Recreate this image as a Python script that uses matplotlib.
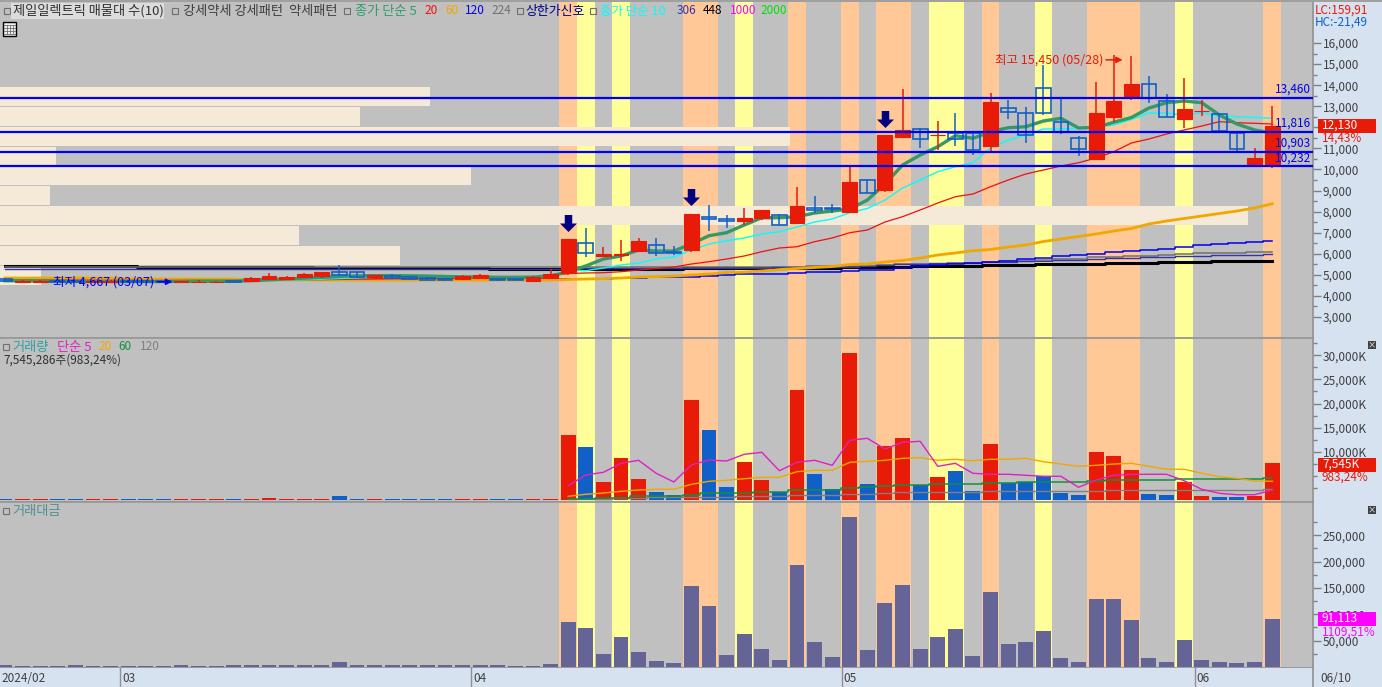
#!/usr/bin/env python3
"""Daily stock chart: candles with moving averages, volume and traded value panes."""

import matplotlib

matplotlib.use("Agg")
import matplotlib.pyplot as plt
import numpy as np
from matplotlib.patches import Rectangle
from matplotlib.path import Path

W, H = 1382, 687
plt.rcParams["font.family"] = ["Noto Sans CJK KR", "DejaVu Sans"]

BG = "#C0C0C0"
SIDE = "#D6E2F0"
RED = "#E81A08"
BLUE = "#1060C8"

opens = [
    4800, 4680, 4680, 4720, 4700, 4660, 4670, 4700, 4690, 4690, 4680, 4650, 4650, 4690, 4700, 4800,
    4780, 4880, 4950, 5130, 5110, 4890, 4940, 4880, 4840, 4820, 4800, 4840, 4820, 4820, 4710, 4850,
    5100, 6490, 5900, 5925, 6140, 6400, 6070, 6175, 7740, 7650, 7570, 7710, 7820, 7470, 8180, 8180,
    8000, 9500, 9020, 11555, 11900, 11625, 11730, 11745, 11110, 12900, 12660, 13850, 12270, 11480,
    10495, 12500, 13485, 14040, 13230, 12410, 12750, 12620, 11715, 10270, 10270,
]
closes = [
    4705, 4720, 4710, 4680, 4670, 4700, 4710, 4670, 4670, 4680, 4690, 4680, 4680, 4660, 4860, 4940,
    4880, 5030, 5130, 4990, 4910, 4990, 4830, 4800, 4760, 4760, 4940, 4990, 4740, 4770, 4900, 5040,
    6700, 6020, 5990, 5970, 6600, 6020, 6050, 7880, 7650, 7550, 7695, 8075, 7350, 8265, 8090, 8130,
    9400, 8900, 11630, 11870, 11460, 11650, 11460, 10940, 13200, 12740, 11650, 12660, 11790, 10985,
    12680, 13250, 14050, 13390, 12500, 12870, 12790, 11840, 10960, 10540, 12070,
]
highs = [
    4830, 4760, 4740, 4750, 4740, 4730, 4750, 4730, 4720, 4720, 4720, 4730, 4720, 4720, 4900, 5080,
    4960, 5080, 5150, 5460, 5130, 5010, 5040, 4930, 4880, 4860, 5000, 5020, 4850, 4850, 4960, 5260,
    6700, 7220, 6300, 6650, 6730, 6730, 6365, 7880, 8310, 7840, 8180, 8075, 7885, 9180, 8740, 8360,
    10130, 9540, 11630, 13800, 11960, 12300, 12660, 11745, 13610, 13295, 12950, 14950, 13375, 11600,
    14150, 15450, 15380, 14430, 13580, 14320, 13295, 12620, 11715, 11000, 13010,
]
lows = [
    4680, 4660, 4660, 4650, 4650, 4640, 4650, 4650, 4650, 4667, 4670, 4630, 4620, 4640, 4650, 4780,
    4750, 4830, 4870, 4940, 4900, 4820, 4800, 4780, 4750, 4720, 4780, 4800, 4720, 4750, 4680, 4840,
    5000, 5860, 5840, 5670, 6090, 5910, 5940, 6095, 7090, 7240, 7360, 7600, 7350, 7410, 7950, 7950,
    7930, 8900, 8940, 11480, 11030, 10920, 11110, 10680, 10840, 12390, 11270, 12600, 11680, 10650,
    10450, 12270, 13290, 13170, 12500, 11950, 12550, 11840, 10840, 10270, 10050,
]

ma5 = [
    4720, 4720, 4710, 4700, 4690, 4690, 4680, 4680, 4680, 4680, 4690, 4700, 4700, 4700, 4720, 4760,
    4800, 4840, 4880, 4920, 4950, 4960, 4960, 4950, 4940, 4920, 4900, 4890, 4880, 4880, 4890, 4950,
    5132, 5417, 5749, 5891, 6176, 6128, 6128, 6461, 6855, 6997, 7362, 7709, 7709, 7757, 7932, 8027,
    8122, 8549, 9308, 10210, 10685, 11079, 11601, 11477, 11791, 11980, 12028, 12298, 12426, 11966,
    11999, 12237, 12464, 12915, 13167, 13248, 13167, 12583, 12156, 11871, 11729,
]
ma10 = [
    4730, 4730, 4720, 4720, 4710, 4700, 4700, 4690, 4690, 4680, 4680, 4680, 4690, 4690, 4700, 4720,
    4740, 4760, 4790, 4820, 4850, 4880, 4890, 4910, 4920, 4920, 4920, 4910, 4900, 4890, 4890, 4900,
    5227, 5194, 5322, 5464, 5559, 5749, 5844, 6176, 6461, 6617, 6746, 6935, 7044, 7268, 7505, 7647,
    7946, 8146, 8549, 9119, 9498, 9892, 10129, 10319, 11017, 11397, 11634, 11919, 11919, 11966,
    12014, 12108, 12370, 12678, 12678, 12583, 12692, 12536, 12502, 12474, 12426,
]
ma20 = [
    4760, 4760, 4750, 4750, 4750, 4740, 4740, 4740, 4730, 4730, 4730, 4730, 4730, 4730, 4740, 4740,
    4750, 4760, 4770, 4780, 4790, 4800, 4810, 4810, 4820, 4820, 4830, 4830, 4840, 4850, 4880, 4960,
    5060, 5085, 5099, 5147, 5227, 5298, 5369, 5511, 5621, 5749, 5891, 6095, 6271, 6333, 6570, 6746,
    6997, 7125, 7505, 7757, 8075, 8407, 8705, 8834, 9180, 9498, 9783, 9973, 10163, 10319, 10542,
    10842, 11254, 11444, 11681, 11871, 12061, 12265, 12218, 12189, 12156,
]
ma60 = [
    4847, 4847, 4847, 4847, 4847, 4847, 4847, 4800, 4800, 4800, 4800, 4800, 4800, 4800, 4752, 4752,
    4752, 4752, 4752, 4752, 4752, 4752, 4752, 4752, 4752, 4752, 4752, 4752, 4752, 4752, 4752, 4752,
    4776, 4800, 4814, 4847, 4895, 4909, 4942, 4990, 5037, 5108, 5132, 5179, 5250, 5298, 5346, 5393,
    5488, 5511, 5606, 5678, 5796, 5939, 6034, 6143, 6200, 6319, 6413, 6579, 6698, 6817, 6935, 7078,
    7197, 7410, 7552, 7671, 7790, 7908, 8027, 8169, 8373,
]
ma120 = [
    4700, 4700, 4700, 4700, 4700, 4700, 4700, 4700, 4700, 4700, 4700, 4700, 4700, 4700, 4790, 4790,
    4790, 4790, 4790, 4790, 4790, 4790, 4790, 4790, 4790, 4790, 4790, 4790, 4790, 4790, 4790, 4790,
    4800, 4810, 4820, 4835, 4860, 4880, 4895, 4909, 4950, 4985, 5020, 5040, 5060, 5085, 5115, 5150,
    5179, 5241, 5241, 5307, 5431, 5464, 5512, 5545, 5592, 5654, 5734, 5782, 5877, 5924, 5986, 6067,
    6114, 6176, 6238, 6304, 6413, 6461, 6508, 6541, 6589,
]
ma224 = [
    5370, 5370, 5370, 5370, 5370, 5370, 5370, 5370, 5370, 5370, 5370, 5370, 5370, 5370, 5370, 5370,
    5370, 5370, 5370, 5370, 5370, 5370, 5370, 5370, 5370, 5370, 5370, 5370, 5370, 5370, 5370, 5370,
    5370, 5370, 5370, 5370, 5370, 5384, 5384, 5384, 5384, 5384, 5384, 5384, 5384, 5384, 5400, 5420,
    5440, 5440, 5464, 5497, 5512, 5535, 5559, 5573, 5607, 5631, 5678, 5725, 5763, 5772, 5829, 5844,
    5877, 5915, 5924, 5963, 6020, 6020, 6034, 6067, 6067,
]
ma306 = [
    5260, 5260, 5260, 5260, 5260, 5260, 5260, 5260, 5260, 5260, 5260, 5260, 5260, 5260, 5260, 5260,
    5260, 5260, 5260, 5260, 5260, 5260, 5260, 5260, 5260, 5290, 5290, 5290, 5290, 5290, 5290, 5290,
    5290, 5300, 5300, 5300, 5310, 5310, 5320, 5320, 5330, 5330, 5340, 5340, 5350, 5350, 5360, 5370,
    5388, 5440, 5464, 5512, 5535, 5545, 5545, 5559, 5592, 5607, 5654, 5654, 5687, 5687, 5772, 5782,
    5782, 5829, 5829, 5891, 5891, 5924, 5924, 5924, 5972,
]
ma448 = [
    5417, 5417, 5417, 5417, 5417, 5417, 5417, 5417, 5355, 5355, 5355, 5355, 5355, 5355, 5355, 5355,
    5355, 5355, 5307, 5307, 5307, 5307, 5307, 5307, 5307, 5307, 5307, 5307, 5274, 5274, 5274, 5274,
    5274, 5274, 5274, 5274, 5274, 5274, 5274, 5337, 5337, 5337, 5337, 5337, 5337, 5337, 5337, 5337,
    5369, 5369, 5369, 5369, 5417, 5417, 5417, 5417, 5464, 5464, 5464, 5526, 5526, 5526, 5526, 5560,
    5560, 5560, 5607, 5607, 5607, 5654, 5654, 5654, 5654,
]

# bottom price of each volume-at-price bin and its length as a share of the pane
profile_bottoms = [13010, 12061, 11112, 10162, 9260, 8311, 7362, 6413, 5464, 4515]
profile_shares = [0.3275, 0.274, 0.602, 0.043, 0.359, 0.038, 0.9505, 0.228, 0.305, 0.031]
profile_height = 905

# line heights as read against the axis ticks, the printed figures stay in level_labels
levels = [13404, 11791, 10841, 10177]
level_labels = ["13,460", "11,816", "10,903", "10,232"]
level_label_prices = [13790, 12180, 11240, 10540]

orange_days = [32, 39, 40, 45, 48, 50, 51, 56, 62, 63, 64, 72]
yellow_days = [33, 35, 42, 53, 54, 59, 67]
signal_days = [32, 39, 50]
signal_prices = [7481, 8668, 12417]

volume = [
    60, 50, 40, 50, 60, 50, 40, 50, 40, 50, 60, 40, 50, 60, 120, 260, 120, 110, 100, 700, 150, 120,
    110, 100, 100, 90, 100, 90, 60, 50, 40, 200,
    13440, 10940, 3650, 8650, 4270, 1560, 940, 20730, 14480, 2600, 7810, 4060, 1560, 22810, 5310,
    2190, 30520, 3230, 11150, 12810, 3020, 4690, 5940, 1770, 11560, 3440, 3650, 4900, 1350, 940,
    9900, 9060, 6150, 1150, 940, 3650, 730, 620, 520, 830, 7545,
]
vol_ma5 = [
    2875, 5104, 5667, 7542, 8167, 5458, 3646, 7188, 8229, 8021, 9417, 9833, 6000, 7750, 8167, 7125,
    12333, 12750, 10521, 11917, 12125, 6917, 7542, 5458, 5250, 5250, 5042, 4833, 4833, 2542, 4063,
    5042, 5250, 5250, 5250, 3917, 2125, 1292, 1000, 1000, 1979,
]
vol_ma20 = [
    667, 1083, 1354, 1708, 1979, 2125, 2125, 3167, 3792, 4000, 4333, 4625, 4625, 5792, 6083, 6083,
    7750, 7958, 8167, 8583, 8708, 8167, 8375, 8083, 8375, 8375, 8583, 7875, 7396, 6917, 7125, 7396,
    7542, 6917, 6292, 6292, 5458, 4750, 4417, 3854, 3792,
]
vol_ma60 = [
    125, 167, 375, 375, 667, 667, 667, 938, 1292, 1292, 1292, 1500, 1500, 1917, 1917, 1917, 2458,
    2521, 2750, 2958, 2958, 3167, 3167, 3167, 3375, 3375, 3583, 3583, 3583, 3646, 3792, 4000, 4000,
    4000, 4000, 4208, 4208, 4208, 4208, 4208, 4417,
]
vol_ma120 = [
    100, 150, 200, 250, 300, 500, 500, 500, 500, 500, 667, 667, 667, 938, 938, 938, 1146, 1146, 1292,
    1500, 1500, 1500, 1500, 1500, 1708, 1708, 1708, 1708, 1708, 1708, 1708, 1917, 1917, 1917, 1917,
    1917, 1917, 1917, 1917, 1917, 2188,
]

traded_value = [
    3000, 2800, 2600, 2800, 3000, 2800, 2600, 2800, 2600, 2800, 3000, 2600, 2800, 3000, 3500, 4500,
    3500, 3400, 3300, 9500, 3800, 3500, 3400, 3300, 3300, 3200, 3300, 3200, 2900, 2800, 2700, 5700,
    85400, 74000, 24700, 57000, 28500, 11400, 7600, 153700, 115700, 22800, 62600, 34200, 13300,
    193500, 47400, 19000, 284600, 32000, 121400, 155600, 34200, 57000, 72100, 20900, 142300, 43600,
    47400, 68300, 17000, 9500, 129000, 129000, 89200, 17000, 9500, 51000, 13300, 9500, 7600, 9500,
    91113,
]

month_labels = ["2024/02", "03", "04", "05", "06"]
month_edges = [-0.28, 6.55, 26.5, 47.55, 67.6]

price_ticks = [3000, 4000, 5000, 6000, 7000, 8000, 9000, 10000, 11000, 12000, 13000, 14000, 15000, 16000]
volume_ticks = [10000, 15000, 20000, 25000, 30000]
value_ticks = [50000, 100000, 150000, 200000, 250000]


def to_x(px):
    return px / W


def to_y(py):
    return 1 - py / H


def label(fig, x, y, text, color="#404040", size=8.5, **kw):
    fig.text(to_x(x), to_y(y), text, color=color, fontsize=size, va="center", **kw)


def legend_box(fig, x, y):
    fig.add_artist(Rectangle((to_x(x), to_y(y + 3)), 6 / W, 6 / H, fc="none", ec="#707070", lw=0.8,
                             transform=fig.transFigure))


def last_value_box(fig, y, text, color):
    fig.add_artist(Rectangle((to_x(1318), to_y(y + 7)), 58 / W, 13.5 / H, fc=color, ec="none",
                             transform=fig.transFigure, zorder=2))
    label(fig, 1322, y, text, color="white", zorder=3)


def add_pane(fig, top, bottom):
    ax = fig.add_axes([0, to_y(bottom), 1313 / W, (bottom - top) / H], facecolor=BG)
    ax.set_xlim(-0.284, 74.32)
    for side in ("top", "left"):
        ax.spines[side].set_visible(False)
    for side in ("right", "bottom"):
        ax.spines[side].set_color("#909090")
        ax.spines[side].set_linewidth(1.2)
    ax.set_xticks([])
    ax.yaxis.tick_right()
    ax.tick_params(axis="y", which="major", length=6, width=1, color="#808080", labelcolor="#404040",
                   labelsize=8.5, pad=1)
    ax.tick_params(axis="y", which="minor", length=3, width=1, color="#808080")
    for day in orange_days:
        ax.axvspan(day - 0.5, day + 0.5, color="#FFC896", lw=0, zorder=1)
    for day in yellow_days:
        ax.axvspan(day - 0.5, day + 0.5, color="#FFFF99", lw=0, zorder=1)
    return ax


def draw_price(ax, days):
    ax.set_ylim(2000, 17946)
    ax.barh(profile_bottoms, profile_shares, height=profile_height, align="edge", color="#F5E9D8",
            transform=ax.get_yaxis_transform(), zorder=2)

    ax.plot(days, ma448, color="black", lw=2.2, drawstyle="steps-mid", zorder=3)
    ax.plot(days, ma224, color="#707070", lw=1.1, drawstyle="steps-mid", zorder=3)
    ax.plot(days, ma306, color="#3333AA", lw=1.0, drawstyle="steps-mid", zorder=3)
    ax.plot(days, ma120, color="#0000F0", lw=1.1, drawstyle="steps-mid", zorder=3)
    ax.plot(days, ma60, color="#F0A800", lw=2.0, zorder=3)
    ax.plot(days, ma20, color="#F01010", lw=0.9, zorder=3)
    ax.plot(days, ma10, color="#00FFFF", lw=1.0, zorder=3)
    ax.plot(days, ma5, color="#339966", lw=2.4, zorder=3)

    o, c = np.array(opens), np.array(closes)
    up = c >= o
    lower = np.minimum(o, c)
    size = np.abs(c - o)
    ax.vlines(days[up], np.array(lows)[up], np.array(highs)[up], color=RED, lw=1.1, zorder=4)
    ax.vlines(days[~up], np.array(lows)[~up], np.array(highs)[~up], color=BLUE, lw=1.1, zorder=4)
    ax.bar(days[up], size[up], bottom=lower[up], width=0.85, color=RED, ec=RED, lw=0.8, zorder=4)
    ax.bar(days[~up], size[~up], bottom=lower[~up], width=0.84, fc="none", ec=BLUE, lw=1.2, zorder=4)

    for level, text, text_price in zip(levels, level_labels, level_label_prices):
        ax.axhline(level, color="#0000F0", lw=1.6, zorder=5)
        ax.text(74.2, text_price, text, color="#0000F0", fontsize=8.5, ha="right", va="center", zorder=6)

    arrow = Path([(-0.22, 0.5), (0.22, 0.5), (0.22, 0), (0.5, 0), (0, -0.5), (-0.5, 0), (-0.22, 0), (-0.22, 0.5)])
    ax.scatter(signal_days, signal_prices, marker=arrow, s=150, color="#000080", lw=0, zorder=6)

    ax.annotate("최고 15,450 (05/28)", xy=(63.5, 15200), xytext=(62.4, 15200), color=RED, fontsize=9,
                ha="right", va="center", arrowprops=dict(arrowstyle="-|>", color=RED, lw=1.1, shrinkA=0, shrinkB=0),
                zorder=6)
    ax.annotate("최저 4,667 (03/07)", xy=(9.5, 4667), xytext=(8.5, 4667), color="#0000F0", fontsize=9,
                ha="right", va="center", arrowprops=dict(arrowstyle="-|>", color="#0000F0", lw=1.1, shrinkA=0, shrinkB=0),
                zorder=6)

    ax.set_yticks(price_ticks)
    # the 12,000 tick sits behind the last price box in the reference
    ax.set_yticklabels(["" if t == 12000 else f"{t:,}" for t in price_ticks])
    ax.set_yticks(np.array(price_ticks[:-1]) + 500, minor=True)


def draw_volume(ax, days):
    ax.set_ylim(-520, 33437)
    up = np.array(closes) >= np.array(opens)
    colors = [RED if u else BLUE for u in up]
    ax.bar(days, volume, width=0.85, color=colors, zorder=3)
    late = days[32:]
    ax.plot(late, vol_ma120, color="#808080", lw=1.0, drawstyle="steps-mid", zorder=4)
    ax.plot(late, vol_ma60, color="#109040", lw=1.1, drawstyle="steps-mid", zorder=4)
    ax.plot(late, vol_ma20, color="#F0A800", lw=1.0, zorder=4)
    ax.plot(late, vol_ma5, color="#E020C0", lw=1.0, zorder=4)
    ax.set_yticks(volume_ticks)
    ax.set_yticklabels([f"{t:,}K" for t in volume_ticks])
    ax.set_yticks([2500, 5000, 7500, 12500, 17500, 22500, 27500, 32500], minor=True)


def draw_value(ax, days):
    ax.set_ylim(-1900, 311200)
    ax.bar(days, traded_value, width=0.85, color="#646496", zorder=3)
    ax.set_yticks(value_ticks)
    ax.set_yticklabels([f"{t:,}" for t in value_ticks])
    ax.set_yticks([25000, 75000, 125000, 175000, 225000, 275000], minor=True)


def draw_dates(fig):
    ax = fig.add_axes([0, 0, 1, 19 / H], facecolor=SIDE)
    ax.set_xlim(-0.284, -0.284 + W / 17.6)
    ax.set_ylim(0, 1)
    ax.set_xticks([])
    ax.set_yticks([])
    for spine in ax.spines.values():
        spine.set_visible(False)
    for edge, text in zip(month_edges, month_labels):
        if edge > 0:
            ax.axvline(edge, color="#909090", lw=1)
        ax.text(edge + 0.1, 0.45, text, color="#404040", fontsize=8.5, va="center")
    ax.axvline(74.32, color="#909090", lw=1.2)
    ax.text(74.75, 0.45, "06/10", color="#404040", fontsize=8.5, va="center")


def draw_titles(fig):
    # top legend strip, one colored piece per indicator
    fig.add_artist(Rectangle((to_x(11), to_y(19)), 153 / W, 16 / H, fc="#DCDCDC", ec="none",
                             transform=fig.transFigure, zorder=2))
    pieces = [
        (13, "제일일렉트릭 매물대 수(10)", "#303030", 9.5),
        (183, "강세약세 강세패턴  약세패턴", "#404040", 9.5),
        (355, "종가 단순 5", "#2E9E6B", 9.5),
        (424, "20", "#F01010", 8.5),
        (445, "60", "#F0A800", 8.5),
        (465, "120", "#0000F0", 8.5),
        (491, "224", "#707070", 8.5),
        (525, "상한가신호", "#000080", 9.3),
        (600, "종가 단순 10", "#00FFFF", 9.0),
        (677, "306", "#3333AA", 8.5),
        (703, "448", "black", 8.5),
        (730, "1000", "#FF00FF", 8.5),
        (760, "2000", "#00E000", 8.5),
    ]
    for x, text, color, size in pieces:
        label(fig, x, 11, text, color=color, size=size, zorder=3)
    for x in (4, 172, 344, 517, 590):
        legend_box(fig, x, 11)

    fig.add_artist(Rectangle((to_x(3), to_y(36)), 13 / W, 14 / H, fc="#F0F0F0", ec="black", lw=1,
                             transform=fig.transFigure, zorder=3))
    for gx in (6.5, 9.5, 12.5):
        fig.add_artist(plt.Line2D([to_x(gx)] * 2, [to_y(25), to_y(34)], color="#707070", lw=0.6, zorder=4))
    for gy in (25, 28, 31, 34):
        fig.add_artist(plt.Line2D([to_x(4), to_x(15)], [to_y(gy)] * 2, color="#707070", lw=0.6, zorder=4))

    legend_box(fig, 3, 347)
    label(fig, 12, 347, "거래량", color="#30A0A0", size=9.5)
    label(fig, 57, 347, "단순 5", color="#E020C0", size=9.5)
    label(fig, 98, 347, "20", color="#F0A800")
    label(fig, 118, 347, "60", color="#109040")
    label(fig, 140, 347, "120", color="#808080")
    label(fig, 3, 360, "7,545,286주(983,24%)", color="#303030")
    legend_box(fig, 3, 511)
    label(fig, 12, 511, "거래대금", color="#509090", size=9.5)

    label(fig, 1315, 10, "LC:159,91", color=RED)
    label(fig, 1315, 22, "HC:-21,49", color=BLUE)
    last_value_box(fig, 125.5, "12,130", RED)
    label(fig, 1322, 138.5, "14,43%", color=RED, zorder=3)
    last_value_box(fig, 464.5, "7,545K", RED)
    label(fig, 1322, 477, "983,24%", color=RED, zorder=3)
    last_value_box(fig, 618.5, "91,113", "#FF00FF")
    label(fig, 1322, 632, "1109,51%", color="#FF00FF", zorder=3)

    for y in (345, 510):
        fig.add_artist(Rectangle((to_x(1368), to_y(y + 4)), 8 / W, 8 / H, fc="#404040", ec="none",
                                 transform=fig.transFigure, zorder=3))
        label(fig, 1372, y, "×", color="white", size=6, ha="center", zorder=4)
    fig.add_artist(Rectangle((0, to_y(2)), 1, 2 / H, fc="#A0A0A0", ec="none", transform=fig.transFigure, zorder=3))


def main():
    fig = plt.figure(figsize=(W / 100, H / 100), dpi=100, facecolor=SIDE)
    days = np.arange(len(closes))

    draw_price(add_pane(fig, 2, 338), days)
    draw_volume(add_pane(fig, 339, 502), days)
    draw_value(add_pane(fig, 503, 668), days)
    draw_dates(fig)
    draw_titles(fig)

    fig.savefig("out.png", dpi=100)
    plt.close(fig)


if __name__ == "__main__":
    main()
